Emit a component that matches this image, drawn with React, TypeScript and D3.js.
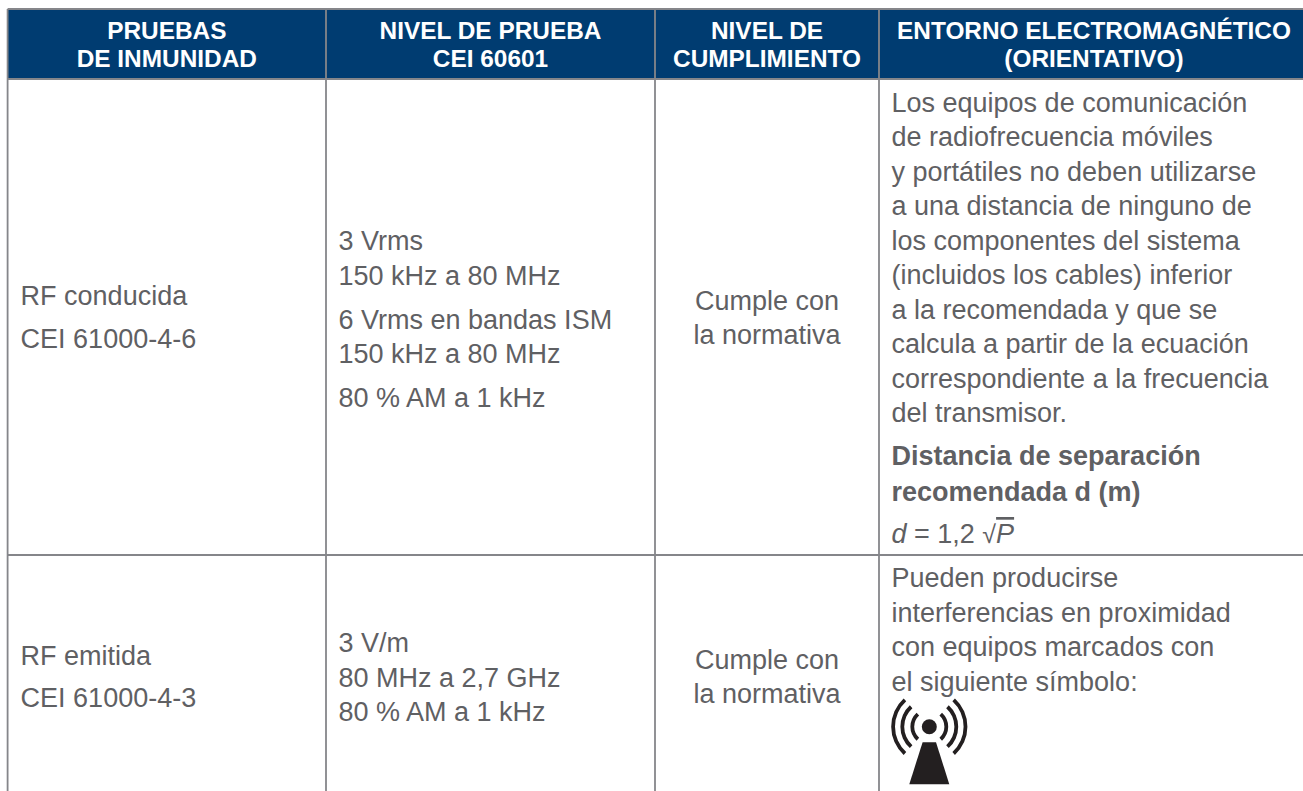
import * as d3 from 'd3';
import React from 'react';

const columns = ['pruebas', 'nivel', 'cumplimiento', 'entorno'];
const rows = ['header', 'conducida', 'emitida'];

const headerLabels = [
  ['PRUEBAS', 'DE INMUNIDAD'],
  ['NIVEL DE PRUEBA', 'CEI 60601'],
  ['NIVEL DE', 'CUMPLIMIENTO'],
  ['ENTORNO ELECTROMAGNÉTICO', '(ORIENTATIVO)'],
];

const pruebas = [
  ['RF conducida', 'CEI 61000-4-6'],
  ['RF emitida', 'CEI 61000-4-3'],
];
const cumplimiento = ['Cumple con', 'la normativa'];
const nivelConducida = ['3 Vrms', '150 kHz a 80 MHz', '6 Vrms en bandas ISM', '150 kHz a 80 MHz', '80 % AM a 1 kHz'];
const nivelEmitida = ['3 V/m', '80 MHz a 2,7 GHz', '80 % AM a 1 kHz'];
const entornoConducida = [
  'Los equipos de comunicación',
  'de radiofrecuencia móviles',
  'y portátiles no deben utilizarse',
  'a una distancia de ninguno de',
  'los componentes del sistema',
  '(incluidos los cables) inferior',
  'a la recomendada y que se',
  'calcula a partir de la ecuación',
  'correspondiente a la frecuencia',
  'del transmisor.',
];
const entornoBold = ['Distancia de separación', 'recomendada d (m)'];
const entornoEmitida = ['Pueden producirse', 'interferencias en proximidad', 'con equipos marcados con', 'el siguiente símbolo:'];

const width = 1303;
const height = 791;
const font = '"Liberation Sans", Arial, sans-serif';
const gray = '#5f6063';
const navy = '#003c71';
const rule = '#85868a';
const pitch = 34.5;

// column and row edges, the last column runs a little past the page
const x = d3.scaleOrdinal<string, number>().domain(columns).range([7.6, 326, 655, 879]);
const y = d3.scaleOrdinal<string, number>().domain(rows).range([9, 79, 555]);
const tableRight = 1309;
const colRight = (i: number) => (i < 3 ? x(columns[i + 1]) : tableRight);
const colCenter = (i: number) => (x(columns[i]) + colRight(i)) / 2;

// baseline of each line, gaps adds paragraph spacing before the given lines
const lineYs = (start: number, n: number, gaps: number[] = []) => {
  let cur = start;
  return d3.range(n).map((i) => {
    if (gaps.includes(i)) cur += 9.5;
    const v = cur;
    cur += pitch;
    return v;
  });
};

const TextLines = ({ lines, tx, ys, anchor = 'start', weight = 400, fill = gray, size = 27 }: any) => (
  <g fontFamily={font} fontSize={size} fontWeight={weight} fill={fill} textAnchor={anchor}>
    {lines.map((l: string, i: number) => (
      <text key={i} x={tx} y={ys[i]}>{l}</text>
    ))}
  </g>
);

const antennaArc = d3.arc();

const Antenna = ({ cx, cy }: { cx: number; cy: number }) => {
  const radii = [17, 27, 36.2];
  const arcs = radii.flatMap((r) => [
    antennaArc({ innerRadius: r - 1.9, outerRadius: r + 1.9, startAngle: Math.PI * 0.235, endAngle: Math.PI * 0.765 }),
    antennaArc({ innerRadius: r - 1.9, outerRadius: r + 1.9, startAngle: -Math.PI * 0.765, endAngle: -Math.PI * 0.235 }),
  ]);
  return (
    <g transform={`translate(${cx},${cy})`} fill="#231f20">
      {arcs.map((d, i) => <path key={i} d={d as string} />)}
      <circle r={7.5} />
      <path d={d3.line()([[-6.7, 15.5], [6.7, 15.5], [20, 57.5], [-20, 57.5]]) + 'Z'} />
    </g>
  );
};

export default function App() {
  const textX = (i: number) => x(columns[i]) + (i === 0 ? 13 : 12.5);
  return (
    <svg width={width} height={height} style={{ position: 'absolute', left: 0, top: 0 }}>
      <rect width={width} height={height} fill="#fff" />
      <rect x={x('pruebas')} y={y('header')} width={width - x('pruebas')} height={y('conducida') - y('header')} fill={navy} />
      {columns.map((c, i) => (
        <TextLines key={c} lines={headerLabels[i]} tx={colCenter(i)} ys={[39, 67]} anchor="middle" weight={700} fill="#fff" size={24.4} />
      ))}

      <TextLines lines={pruebas[0]} tx={textX(0)} ys={[305, 348]} />
      <TextLines lines={pruebas[1]} tx={textX(0)} ys={[665, 707]} />
      <TextLines lines={cumplimiento} tx={colCenter(2)} anchor="middle" ys={[310, 344]} />
      <TextLines lines={cumplimiento} tx={colCenter(2)} anchor="middle" ys={[669, 703]} />
      <TextLines lines={nivelConducida} tx={textX(1)} ys={lineYs(250, 5, [2, 4])} />
      <TextLines lines={nivelEmitida} tx={textX(1)} ys={lineYs(652, 3)} />
      <TextLines lines={entornoConducida} tx={textX(3)} ys={lineYs(111.5, 10)} />
      <TextLines lines={entornoBold} tx={textX(3)} ys={[465, 501]} weight={700} />
      <text x={textX(3)} y={543} fontFamily={font} fontSize={27} fill={gray}>
        <tspan fontStyle="italic">d</tspan> = 1,2 <tspan fontSize={25}>√</tspan><tspan fontStyle="italic" textDecoration="overline">P</tspan>
      </text>
      <TextLines lines={entornoEmitida} tx={textX(3)} ys={lineYs(587, 4)} />
      <Antenna cx={929.3} cy={726.7} />

      <g stroke={rule} strokeWidth={1.8}>
        {columns.map((c) => <line key={c} x1={x(c)} x2={x(c)} y1={y('header')} y2={height} />)}
        {rows.map((r) => <line key={r} x1={x('pruebas')} x2={width} y1={y(r)} y2={y(r)} />)}
      </g>
    </svg>
  );
}
